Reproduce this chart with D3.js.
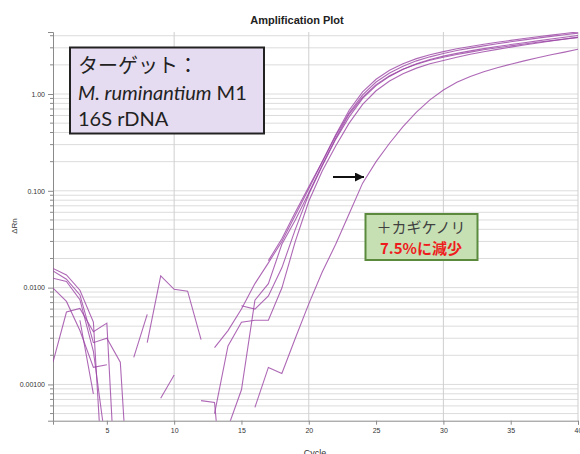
<!DOCTYPE html>
<html>
<head>
<meta charset="utf-8">
<script src="https://cdn.jsdelivr.net/npm/d3@7"></script>
<style>
  html, body { margin: 0; padding: 0; background: #fff; }
  svg { display: block; }
</style>
</head>
<body>
<svg id="chart" width="580" height="454"></svg>
<script>
// Amplification plot: ΔRn (log scale) against PCR cycle for six wells.
const cycles = [1,2,3,4,5,6,7,8,9,10,11,12,13,14,15,16,17,18,19,20,
                21,22,23,24,25,26,27,28,29,30,31,32,33,34,35,36,37,38,39,40];

// null = negative ΔRn (not drawn on a log axis)
const wellA = [0.0158,0.0135,0.0094,0.0044,0.00002,null,0.0019,0.0053,null,null,
               null,null,0.0024,0.0036,0.006,0.011,0.018,0.03,0.056,0.105,
               0.2,0.38,0.68,1.05,1.42,1.76,2.05,2.32,2.54,2.74,
               2.93,3.1,3.26,3.42,3.58,3.74,3.9,4.06,4.22,4.38];
const wellB = [0.0149,0.0122,0.0084,0.0027,0.003,0.0017,0.00001,null,0.00072,0.00125,
               null,null,null,null,0.0065,0.006,0.0082,0.016,0.04,0.092,
               0.18,0.34,0.58,0.9,1.22,1.52,1.8,2.05,2.27,2.46,
               2.63,2.79,2.94,3.09,3.24,3.39,3.54,3.7,3.86,4.02];
const wellC = [0.0125,0.0116,0.0075,0.0022,0.0002,null,null,null,null,null,
               null,null,0.0005,0.0025,0.0044,0.0046,0.0046,0.0099,0.03,0.078,
               0.16,0.29,0.5,0.78,1.08,1.36,1.62,1.85,2.05,2.22,
               2.4,2.57,2.73,2.89,3.05,3.21,3.37,3.53,3.69,3.85];
const wellD = [0.0099,0.0072,0.0036,0.0015,0.0016,null,null,0.0027,0.0132,0.0096,
               0.0092,0.0029,null,0.00036,0.00088,0.0074,0.011,0.028,0.05,0.095,
               0.185,0.35,0.62,0.93,1.25,1.54,1.8,2.03,2.23,2.4,
               2.56,2.71,2.86,3.0,3.14,3.28,3.42,3.56,3.7,3.85];
const wellE = [0.0017,0.0056,0.0061,0.0035,0.0043,0.00001,null,null,null,null,
               null,0.00068,0.00065,0.00002,null,null,0.019,0.032,0.06,0.11,
               0.2,0.37,0.64,0.98,1.33,1.65,1.94,2.2,2.42,2.62,
               2.81,2.98,3.14,3.3,3.46,3.62,3.78,3.94,4.1,4.25];
// well with seaweed (カギケノリ) added: curve shifted to later cycles
const wellF = [null,null,0.0046,0.0008,null,null,null,null,null,null,
               null,null,null,null,null,0.00058,0.0015,0.0013,0.003,0.0068,
               0.0145,0.028,0.058,0.12,0.2,0.31,0.46,0.65,0.87,1.1,
               1.32,1.52,1.7,1.87,2.03,2.2,2.37,2.54,2.71,2.9];

const wells = [wellA, wellB, wellC, wellD, wellE, wellF];

const yTickValues = [1, 0.1, 0.01, 0.001];
const yTickLabels = ["1.00", "0.100", "0.0100", "0.00100"];
const xTickValues = [5, 10, 15, 20, 25, 30, 35, 40];
const xGridValues = [10, 20, 30, 40];

const titleText = "Amplification Plot";
const xTitle = "Cycle";
const yTitle = "ΔRn";
const targetLines = ["ターゲット：", "M. ruminantium", " M1", "16S rDNA"];
const noteLines = ["＋カギケノリ", "7.5%に減少"];

const svg = d3.select("#chart");
const plot = { left: 53, right: 578, top: 32, bottom: 420.7 };

const x = d3.scaleLinear().domain([1, 40]).range([plot.left, plot.right]);
const y = d3.scaleLog().domain([0.000422, 4.37]).range([plot.bottom, plot.top]);

// gridlines: every 1..9 within each decade
const minorVals = [];
for (let e = -4; e <= 0; e++) {
  for (let m = 1; m <= 9; m++) {
    const v = m * Math.pow(10, e);
    if (v >= y.domain()[0] && v <= y.domain()[1]) minorVals.push(v);
  }
}
const grid = svg.append("g");
grid.selectAll("line.h").data(minorVals).join("line")
  .attr("x1", plot.left).attr("x2", plot.right)
  .attr("y1", d => y(d)).attr("y2", d => y(d))
  .attr("stroke", "#dcdcdc").attr("stroke-width", 1);
grid.selectAll("line.v").data(xGridValues).join("line")
  .attr("x1", d => x(d)).attr("x2", d => x(d))
  .attr("y1", plot.top).attr("y2", plot.bottom)
  .attr("stroke", "#cfcfcf").attr("stroke-width", 1);

// axes
const yAxis = d3.axisLeft(y)
  .tickValues(yTickValues)
  .tickFormat((d, i) => yTickLabels[i])
  .tickSize(5).tickSizeOuter(5);
const gy = svg.append("g").attr("transform", `translate(${plot.left},0)`).call(yAxis);
gy.selectAll("text").attr("font-family", "Liberation Sans, Arial, sans-serif")
  .attr("font-size", 7).attr("fill", "#333");
gy.selectAll("line, path").attr("stroke", "#8a8a8a");
// minor ticks
svg.append("g").selectAll("line").data(minorVals.filter(v => !yTickValues.includes(v))).join("line")
  .attr("x1", plot.left - 3).attr("x2", plot.left)
  .attr("y1", d => y(d)).attr("y2", d => y(d))
  .attr("stroke", "#8a8a8a");

const xAxis = d3.axisBottom(x).tickValues(xTickValues).tickFormat(d3.format("d"))
  .tickSize(4).tickSizeOuter(4);
const gx = svg.append("g").attr("transform", `translate(0,${plot.bottom})`).call(xAxis);
gx.selectAll("text").attr("font-family", "Liberation Sans, Arial, sans-serif")
  .attr("font-size", 7).attr("fill", "#333");
gx.selectAll("line, path").attr("stroke", "#8a8a8a");

// titles
svg.append("text").attr("x", 297).attr("y", 24).attr("text-anchor", "middle")
  .attr("font-family", "Liberation Sans, Arial, sans-serif").attr("font-weight", "bold")
  .attr("font-size", 11).attr("fill", "#222").text(titleText);
svg.append("text").attr("x", 315).attr("y", 456).attr("text-anchor", "middle")
  .attr("font-family", "Liberation Sans, Arial, sans-serif")
  .attr("font-size", 9).attr("fill", "#333").text(xTitle);
svg.append("text").attr("transform", "translate(17,226) rotate(-90)").attr("text-anchor", "middle")
  .attr("font-family", "Liberation Sans, Arial, sans-serif")
  .attr("font-size", 8).attr("fill", "#333").text(yTitle);

// amplification curves
svg.append("clipPath").attr("id", "plotClip").append("rect")
  .attr("x", plot.left).attr("y", plot.top)
  .attr("width", plot.right - plot.left).attr("height", plot.bottom - plot.top);

const line = d3.line()
  .defined(d => d[1] != null)
  .x(d => x(d[0]))
  .y(d => y(d[1]));

svg.append("g").attr("clip-path", "url(#plotClip)")
  .selectAll("path").data(wells).join("path")
  .attr("d", w => line(cycles.map((c, i) => [c, w[i]])))
  .attr("fill", "none")
  .attr("stroke", "#9a42a4")
  .attr("stroke-opacity", 0.8)
  .attr("stroke-width", 1.1);

// target annotation box
const tb = svg.append("g");
tb.append("rect").attr("x", 70).attr("y", 47.5).attr("width", 194).attr("height", 86)
  .attr("fill", "#e6dcf1").attr("stroke", "#222").attr("stroke-width", 2);
tb.append("text").attr("x", 78).attr("y", 73)
  .attr("font-family", "Noto Sans CJK JP, sans-serif").attr("font-size", 20)
  .attr("fill", "#222").text(targetLines[0]);
const t2 = tb.append("text").attr("x", 78).attr("y", 100)
  .attr("font-family", "Lato, Open Sans, sans-serif").attr("font-size", 20).attr("fill", "#222");
t2.append("tspan").attr("font-style", "italic").text(targetLines[1]);
t2.append("tspan").text(targetLines[2]);
tb.append("text").attr("x", 78).attr("y", 126)
  .attr("font-family", "Lato, Open Sans, sans-serif").attr("font-size", 20)
  .attr("fill", "#222").text(targetLines[3]);

// shift arrow
svg.append("defs").append("marker").attr("id", "arrowHead")
  .attr("viewBox", "0 0 10 10").attr("refX", 10).attr("refY", 5)
  .attr("markerWidth", 4.5).attr("markerHeight", 4.5).attr("orient", "auto")
  .attr("markerUnits", "strokeWidth")
  .append("path").attr("d", "M0,0 L10,5 L0,10 z").attr("fill", "#111");
svg.append("line").attr("x1", 333).attr("y1", 177).attr("x2", 364).attr("y2", 177)
  .attr("stroke", "#111").attr("stroke-width", 2).attr("marker-end", "url(#arrowHead)");

// seaweed note box
const nb = svg.append("g");
nb.append("rect").attr("x", 365.5).attr("y", 214).attr("width", 112).attr("height", 46)
  .attr("fill", "#c6e0b4").attr("stroke", "#5b8a3c").attr("stroke-width", 2);
nb.append("text").attr("x", 421).attr("y", 233).attr("text-anchor", "middle")
  .attr("font-family", "Noto Sans CJK JP, sans-serif").attr("font-size", 15)
  .attr("fill", "#404040").text(noteLines[0]);
nb.append("text").attr("x", 421).attr("y", 254).attr("text-anchor", "middle")
  .attr("font-family", "Noto Sans CJK JP, sans-serif").attr("font-size", 15)
  .attr("font-weight", "bold").attr("fill", "#ee1c1c").text(noteLines[1]);
</script>
</body>
</html>
